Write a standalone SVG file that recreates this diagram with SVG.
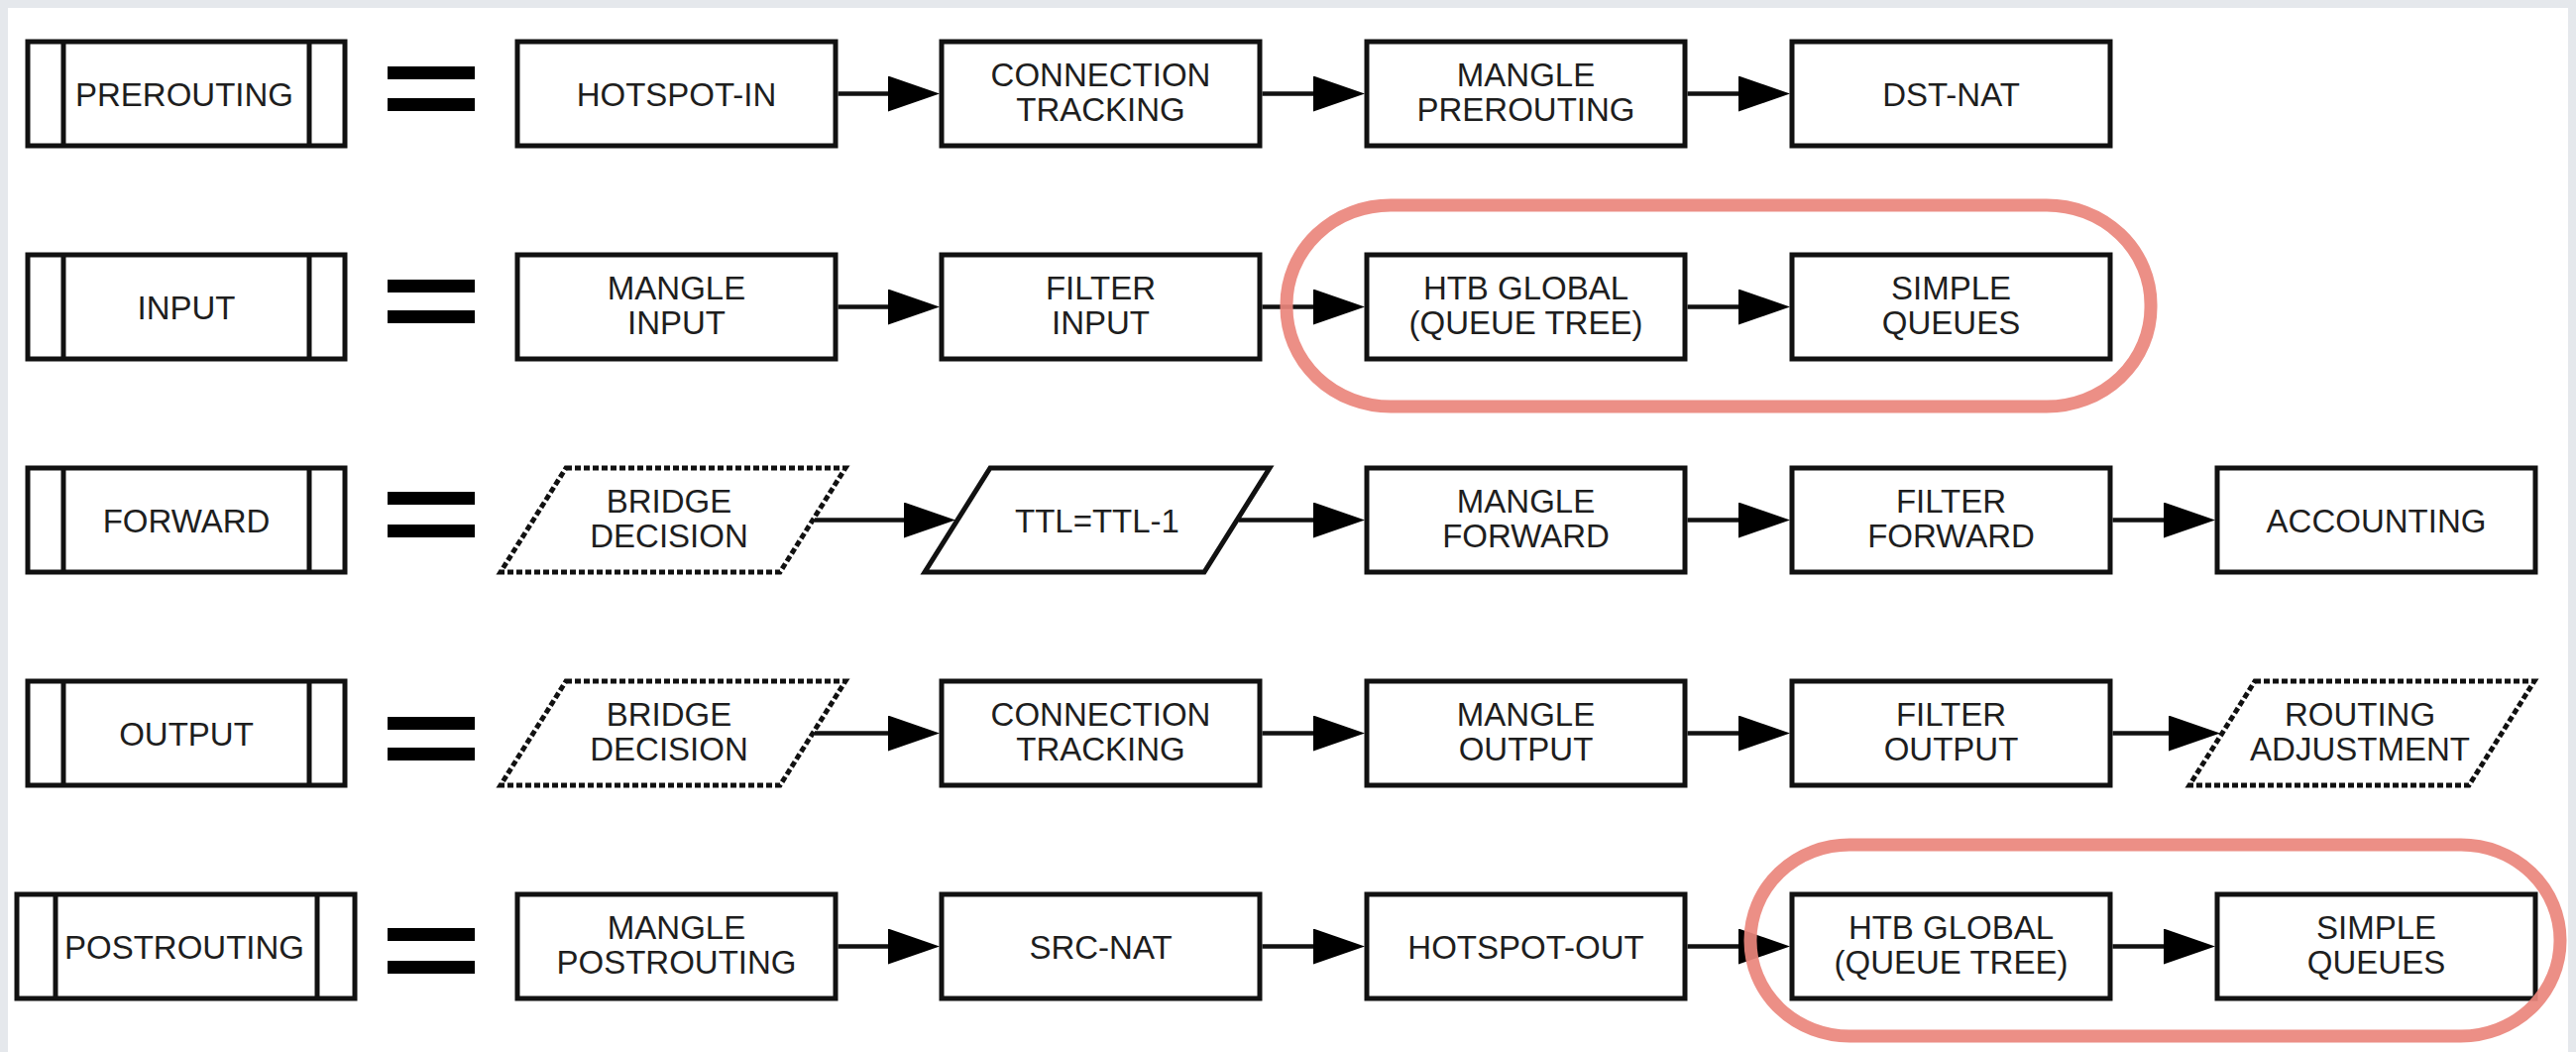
<svg xmlns="http://www.w3.org/2000/svg" width="2599" height="1061" viewBox="0 0 2599 1061">
<defs>
<style>
.box{fill:#fff;stroke:#111;stroke-width:5}
.dash{fill:#fff;stroke:#111;stroke-width:5;stroke-dasharray:6 3}
.inner{stroke:#111;stroke-width:5}
.bar{fill:#000}
.t{font-family:"Liberation Sans",Arial,sans-serif;font-size:33px;fill:#1e1e1e;text-anchor:middle}
.conn{stroke:#111;stroke-width:4.5;fill:none;marker-end:url(#ah)}
.pill{fill:none;stroke:#ea857c;stroke-width:13;stroke-opacity:0.92}
</style>
<marker id="ah" markerUnits="userSpaceOnUse" viewBox="0 -18 52 36" markerWidth="52" markerHeight="36" refX="12" refY="0" orient="auto">
<path d="M0,-18 L52,0 L0,18 z" fill="#000"/>
</marker>
</defs>
<rect x="0" y="0" width="2599" height="1061" fill="#e5e8ec"/>
<rect x="8" y="8" width="2583" height="1053" fill="#fff"/>

<!-- Row 1: PREROUTING cy=94.5 -->
<g id="lbl-prerouting"><rect class="box" x="28" y="42" width="320" height="105"/><line class="inner" x1="64" y1="42" x2="64" y2="147"/><line class="inner" x1="312" y1="42" x2="312" y2="147"/><text class="t" x="186" y="106.5">PREROUTING</text></g>
<g id="eq1"><rect class="bar" x="391" y="67" width="88" height="13"/><rect class="bar" x="391" y="99" width="88" height="13"/></g>
<g id="r1-hotspot-in"><rect class="box" x="522" y="42" width="321" height="105"/><text class="t" x="682.5" y="106.5">HOTSPOT-IN</text></g>
<g id="r1-conntrack"><rect class="box" x="950" y="42" width="321" height="105"/><text class="t" x="1110.5" y="86.5">CONNECTION</text><text class="t" x="1110.5" y="121.5">TRACKING</text></g>
<g id="r1-mangle"><rect class="box" x="1379" y="42" width="321" height="105"/><text class="t" x="1539.5" y="86.5">MANGLE</text><text class="t" x="1539.5" y="121.5">PREROUTING</text></g>
<g id="r1-dstnat"><rect class="box" x="1808" y="42" width="321" height="105"/><text class="t" x="1968.5" y="106.5">DST-NAT</text></g>

<!-- Row 2: INPUT cy=309.5 -->
<g id="lbl-input"><rect class="box" x="28" y="257" width="320" height="105"/><line class="inner" x1="64" y1="257" x2="64" y2="362"/><line class="inner" x1="312" y1="257" x2="312" y2="362"/><text class="t" x="188" y="321.5">INPUT</text></g>
<g id="eq2"><rect class="bar" x="391" y="282" width="88" height="13"/><rect class="bar" x="391" y="313" width="88" height="13"/></g>
<g id="r2-mangle"><rect class="box" x="522" y="257" width="321" height="105"/><text class="t" x="682.5" y="301.5">MANGLE</text><text class="t" x="682.5" y="336.5">INPUT</text></g>
<g id="r2-filter"><rect class="box" x="950" y="257" width="321" height="105"/><text class="t" x="1110.5" y="301.5">FILTER</text><text class="t" x="1110.5" y="336.5">INPUT</text></g>
<g id="r2-htb"><rect class="box" x="1379" y="257" width="321" height="105"/><text class="t" x="1539.5" y="301.5">HTB GLOBAL</text><text class="t" x="1539.5" y="336.5">(QUEUE TREE)</text></g>
<g id="r2-simple"><rect class="box" x="1808" y="257" width="321" height="105"/><text class="t" x="1968.5" y="301.5">SIMPLE</text><text class="t" x="1968.5" y="336.5">QUEUES</text></g>

<!-- Row 3: FORWARD cy=524.5 -->
<g id="lbl-forward"><rect class="box" x="28" y="472" width="320" height="105"/><line class="inner" x1="64" y1="472" x2="64" y2="577"/><line class="inner" x1="312" y1="472" x2="312" y2="577"/><text class="t" x="188" y="536.5">FORWARD</text></g>
<g id="eq3"><rect class="bar" x="391" y="496" width="88" height="13"/><rect class="bar" x="391" y="529" width="88" height="13"/></g>
<g id="r3-bridge"><polygon class="dash" points="571,472 853,472 787,577 505,577"/><text class="t" x="675" y="516.5">BRIDGE</text><text class="t" x="675" y="551.5">DECISION</text></g>
<g id="r3-ttl"><polygon class="box" points="999,472 1281,472 1215,577 933,577"/><text class="t" x="1107" y="536.5">TTL=TTL-1</text></g>
<g id="r3-mangle"><rect class="box" x="1379" y="472" width="321" height="105"/><text class="t" x="1539.5" y="516.5">MANGLE</text><text class="t" x="1539.5" y="551.5">FORWARD</text></g>
<g id="r3-filter"><rect class="box" x="1808" y="472" width="321" height="105"/><text class="t" x="1968.5" y="516.5">FILTER</text><text class="t" x="1968.5" y="551.5">FORWARD</text></g>
<g id="r3-accounting"><rect class="box" x="2237" y="472" width="321" height="105"/><text class="t" x="2397.5" y="536.5">ACCOUNTING</text></g>

<!-- Row 4: OUTPUT cy=739.5 -->
<g id="lbl-output"><rect class="box" x="28" y="687" width="320" height="105"/><line class="inner" x1="64" y1="687" x2="64" y2="792"/><line class="inner" x1="312" y1="687" x2="312" y2="792"/><text class="t" x="188" y="751.5">OUTPUT</text></g>
<g id="eq4"><rect class="bar" x="391" y="723" width="88" height="13"/><rect class="bar" x="391" y="754" width="88" height="13"/></g>
<g id="r4-bridge"><polygon class="dash" points="571,687 853,687 787,792 505,792"/><text class="t" x="675" y="731.5">BRIDGE</text><text class="t" x="675" y="766.5">DECISION</text></g>
<g id="r4-conntrack"><rect class="box" x="950" y="687" width="321" height="105"/><text class="t" x="1110.5" y="731.5">CONNECTION</text><text class="t" x="1110.5" y="766.5">TRACKING</text></g>
<g id="r4-mangle"><rect class="box" x="1379" y="687" width="321" height="105"/><text class="t" x="1539.5" y="731.5">MANGLE</text><text class="t" x="1539.5" y="766.5">OUTPUT</text></g>
<g id="r4-filter"><rect class="box" x="1808" y="687" width="321" height="105"/><text class="t" x="1968.5" y="731.5">FILTER</text><text class="t" x="1968.5" y="766.5">OUTPUT</text></g>
<g id="r4-routing"><polygon class="dash" points="2275,687 2557,687 2491,792 2209,792"/><text class="t" x="2381" y="731.5">ROUTING</text><text class="t" x="2381" y="766.5">ADJUSTMENT</text></g>

<!-- Row 5: POSTROUTING cy=954.5 -->
<g id="lbl-postrouting"><rect class="box" x="17" y="902" width="341" height="105"/><line class="inner" x1="56" y1="902" x2="56" y2="1007"/><line class="inner" x1="320" y1="902" x2="320" y2="1007"/><text class="t" x="186" y="966.5">POSTROUTING</text></g>
<g id="eq5"><rect class="bar" x="391" y="936" width="88" height="13"/><rect class="bar" x="391" y="969" width="88" height="13"/></g>
<g id="r5-mangle"><rect class="box" x="522" y="902" width="321" height="105"/><text class="t" x="682.5" y="946.5">MANGLE</text><text class="t" x="682.5" y="981.5">POSTROUTING</text></g>
<g id="r5-srcnat"><rect class="box" x="950" y="902" width="321" height="105"/><text class="t" x="1110.5" y="966.5">SRC-NAT</text></g>
<g id="r5-hotspot-out"><rect class="box" x="1379" y="902" width="321" height="105"/><text class="t" x="1539.5" y="966.5">HOTSPOT-OUT</text></g>
<g id="r5-htb"><rect class="box" x="1808" y="902" width="321" height="105"/><text class="t" x="1968.5" y="946.5">HTB GLOBAL</text><text class="t" x="1968.5" y="981.5">(QUEUE TREE)</text></g>
<g id="r5-simple"><rect class="box" x="2237" y="902" width="321" height="105"/><text class="t" x="2397.5" y="946.5">SIMPLE</text><text class="t" x="2397.5" y="981.5">QUEUES</text></g>

<g id="connectors">
<path class="conn" d="M845.5,94.5 H908"/>
<path class="conn" d="M1273.5,94.5 H1337"/>
<path class="conn" d="M1702.5,94.5 H1766"/>

<path class="conn" d="M845.5,309.5 H908"/>
<path class="conn" d="M1273.5,309.5 H1337"/>
<path class="conn" d="M1702.5,309.5 H1766"/>

<path class="conn" d="M822,524.5 H924"/>
<path class="conn" d="M1250,524.5 H1337"/>
<path class="conn" d="M1702.5,524.5 H1766"/>
<path class="conn" d="M2131.5,524.5 H2195"/>

<path class="conn" d="M822,739.5 H908"/>
<path class="conn" d="M1273.5,739.5 H1337"/>
<path class="conn" d="M1702.5,739.5 H1766"/>
<path class="conn" d="M2131.5,739.5 H2200"/>

<path class="conn" d="M845.5,954.5 H908"/>
<path class="conn" d="M1273.5,954.5 H1337"/>
<path class="conn" d="M1702.5,954.5 H1766"/>
<path class="conn" d="M2131.5,954.5 H2195"/>
</g>

<g id="highlights">
<rect class="pill" x="1298" y="207" width="872" height="203" rx="105" ry="100"/>
<rect class="pill" x="1766" y="852" width="817" height="193" rx="100" ry="96"/>
</g>
</svg>
